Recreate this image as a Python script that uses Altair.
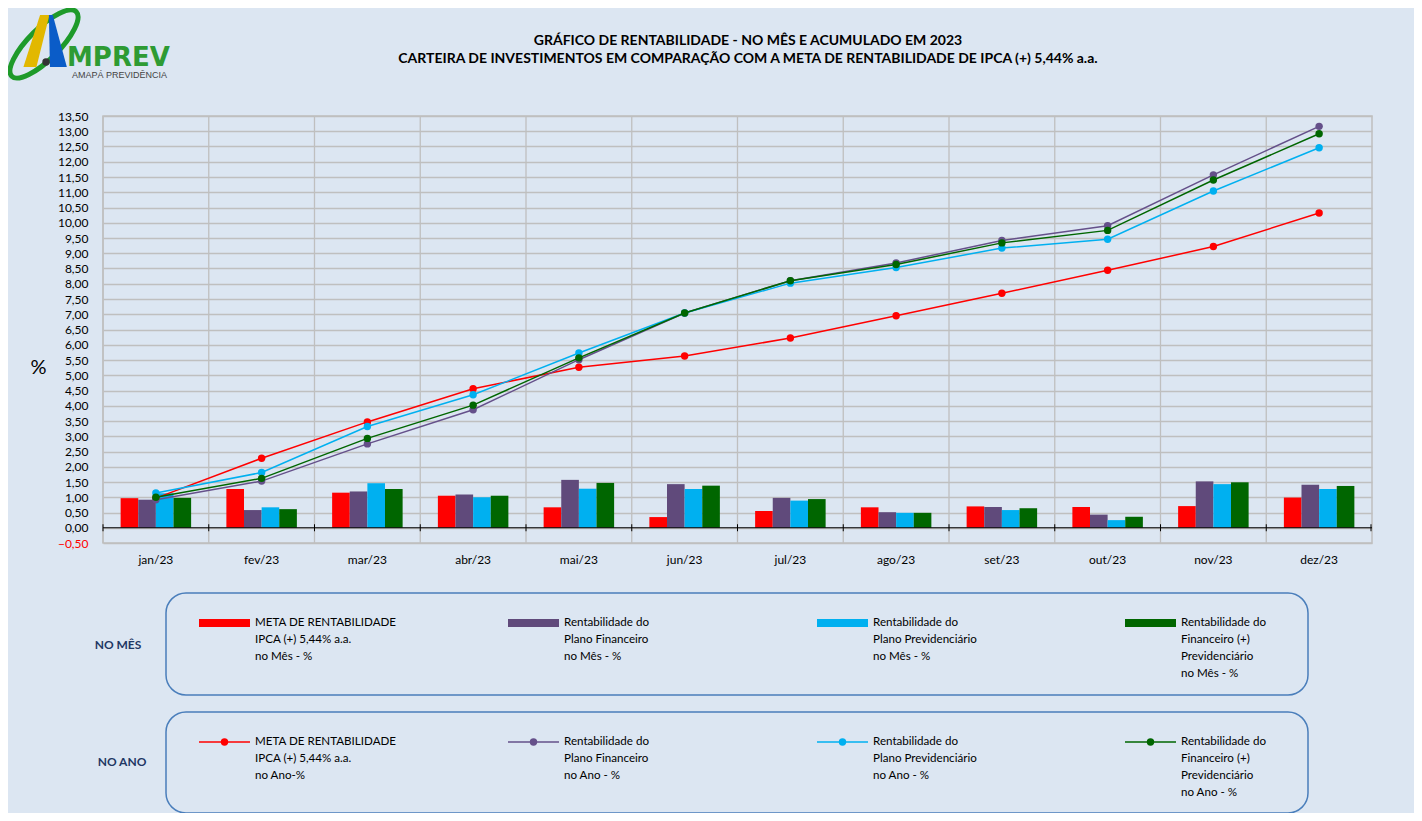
import altair as alt
import pandas as pd

# ---------------- data ----------------
months = ["jan/23", "fev/23", "mar/23", "abr/23", "mai/23", "jun/23",
          "jul/23", "ago/23", "set/23", "out/23", "nov/23", "dez/23"]
keys = ["meta", "fin", "prev", "total"]

meta_mes = [0.97, 1.27, 1.15, 1.05, 0.67, 0.35, 0.55, 0.67, 0.70, 0.68, 0.71, 0.99]
fin_mes = [0.92, 0.58, 1.19, 1.09, 1.57, 1.43, 0.98, 0.51, 0.68, 0.43, 1.52, 1.41]
prev_mes = [1.13, 0.67, 1.46, 1.00, 1.28, 1.27, 0.89, 0.49, 0.58, 0.25, 1.43, 1.27]
total_mes = [0.98, 0.61, 1.27, 1.05, 1.47, 1.38, 0.94, 0.49, 0.64, 0.36, 1.49, 1.37]

meta_ano = [0.97, 2.28, 3.47, 4.56, 5.26, 5.63, 6.22, 6.95, 7.69, 8.44, 9.22, 10.32]
fin_ano = [0.92, 1.53, 2.75, 3.87, 5.51, 7.04, 8.10, 8.68, 9.42, 9.90, 11.57, 13.16]
prev_ano = [1.14, 1.81, 3.32, 4.36, 5.73, 7.04, 8.02, 8.53, 9.17, 9.46, 11.04, 12.46]
total_ano = [1.00, 1.62, 2.93, 4.02, 5.57, 7.04, 8.10, 8.63, 9.34, 9.75, 11.40, 12.92]

y_ticks = [i * 0.5 for i in range(-1, 28)]

title_lines = ["GRÁFICO DE RENTABILIDADE - NO MÊS E ACUMULADO EM 2023",
               "CARTEIRA DE INVESTIMENTOS EM COMPARAÇÃO COM A META DE RENTABILIDADE DE IPCA (+) 5,44% a.a."]

legend_mes = [["META DE RENTABILIDADE", "IPCA (+) 5,44% a.a.", "no Mês - %"],
              ["Rentabilidade do", "Plano Financeiro", "no Mês - %"],
              ["Rentabilidade do", "Plano Previdenciário", "no Mês - %"],
              ["Rentabilidade do", "Financeiro (+)", "Previdenciário", "no Mês - %"]]
legend_ano = [["META DE RENTABILIDADE", "IPCA (+) 5,44% a.a.", "no Ano-%"],
              ["Rentabilidade do", "Plano Financeiro", "no Ano - %"],
              ["Rentabilidade do", "Plano Previdenciário", "no Ano - %"],
              ["Rentabilidade do", "Financeiro (+)", "Previdenciário", "no Ano - %"]]

bar_colors = ["#FF0000", "#604A7B", "#00B0F0", "#006600"]
line_colors = ["#FF0000", "#65508A", "#00B0F0", "#006600"]

rows = []
for i, m in enumerate(months):
    mes_vals = [meta_mes[i], fin_mes[i], prev_mes[i], total_mes[i]]
    ano_vals = [meta_ano[i], fin_ano[i], prev_ano[i], total_ano[i]]
    for k, a, b in zip(keys, mes_vals, ano_vals):
        rows.append({"month": m, "key": k, "mes": a, "ano": b})
df = pd.DataFrame(rows)
df_months = pd.DataFrame({"month": months})
one = alt.Data(values=[{"d": 0}])

# ---------------- layout ----------------
X0, Y0 = 103, 116          # page position of plot area's top-left
W, H = 1269, 427
FONT = "Lato"


def px(x):
    return x - X0


def py(y):
    return y - Y0


xscale = alt.Scale(domain=months, paddingInner=0, paddingOuter=0)
yscale = alt.Scale(domain=[-0.5, 13.5], nice=False, zero=False)
xaxis = alt.Axis(title=None, labelAngle=0, ticks=False, domain=False, grid=False,
                 labelPadding=11, labelFontSize=12, labelFont=FONT, labelColor="#000000")
yaxis = alt.Axis(values=y_ticks, title="%", titleAngle=0, titleX=-65, titleY=251,
                 titleFontSize=20, titleFontWeight="normal", titleFont=FONT,
                 titleAlign="center", titleBaseline="middle", titleColor="#000000",
                 labelExpr="replace(format(datum.value, '.2f'), '.', ',')",
                 labelColor={"condition": {"test": "datum.value < 0", "value": "#FF0000"},
                             "value": "#000000"},
                 labelFontSize=12, labelFont=FONT, labelPadding=15,
                 ticks=False, domain=False, grid=True, gridColor="#BFBFBF", gridWidth=1.3)


def X(**kw):
    return alt.X("month:N", sort=months, scale=xscale, axis=xaxis, **kw)


def Y(field):
    return alt.Y(field, scale=yscale, axis=yaxis)


layers = []

# vertical grid lines at band boundaries
layers.append(alt.Chart(df_months).mark_rule(color="#BFBFBF", strokeWidth=1.3)
              .encode(x=X(bandPosition=0)))

# monthly bars
layers.append(alt.Chart(df).mark_bar().encode(
    x=X(),
    xOffset=alt.XOffset("key:N", sort=keys,
                        scale=alt.Scale(domain=keys, paddingInner=0, paddingOuter=1)),
    y=Y("mes:Q"),
    color=alt.Color("key:N", scale=alt.Scale(domain=keys, range=bar_colors), legend=None),
))

# zero line and its ticks
layers.append(alt.Chart(one).mark_rule(color="#000000", strokeWidth=1)
              .encode(y=alt.YDatum(0, scale=yscale, axis=yaxis)))
layers.append(alt.Chart(df_months).mark_rule(color="#000000", strokeWidth=1).encode(
    x=X(bandPosition=0),
    y=alt.YDatum(-0.115, scale=yscale, axis=yaxis), y2=alt.Y2Datum(0.115)))
layers.append(alt.Chart(one).mark_rule(color="#000000", strokeWidth=1).encode(
    x=alt.value(W - 1),
    y=alt.YDatum(-0.115, scale=yscale, axis=yaxis), y2=alt.Y2Datum(0.115)))

# accumulated lines
for k, c in zip(keys, line_colors):
    layers.append(alt.Chart(df).transform_filter(alt.datum.key == k)
                  .mark_line(color=c, strokeWidth=1.5,
                             point=alt.OverlayMarkDef(filled=True, size=55, color=c, opacity=1))
                  .encode(x=X(), y=Y("ano:Q")))


# ---------------- decorations ----------------
def text(t, x, y, size=11.6, weight="normal", align="left", color="#000000",
         font=FONT, baseline="middle"):
    return alt.Chart(one).mark_text(text=t, fontSize=size, fontWeight=weight, align=align,
                                    color=color, font=font, baseline=baseline).encode(
        x=alt.value(px(x)), y=alt.value(py(y)))


# titles
layers.append(text(title_lines[0], 748, 41, size=14, weight="bold", align="center"))
layers.append(text(title_lines[1], 748, 59, size=14, weight="bold", align="center"))

# logo
ring = "M -0.95 0 A 0.95 0.32 0 1 0 0.95 0 A 0.95 0.32 0 1 0 -0.95 0 Z"
layers.append(alt.Chart(one).mark_point(shape=ring, filled=False, stroke="#1E9A2A",
                                        strokeWidth=5, angle=315, size=96 * 96, opacity=1)
              .encode(x=alt.value(px(44)), y=alt.value(py(44))))
yellow = "M -0.19 -1 L 0.17 -1 L -0.33 1 L -0.83 1 Z"
blue = "M 0.15 -1 L 0.3 -1 L 0.84 1 L 0.19 1 Z"
layers.append(alt.Chart(one).mark_point(shape=yellow, filled=True, color="#E2B800",
                                        size=52 * 52, opacity=1, strokeWidth=0)
              .encode(x=alt.value(px(45)), y=alt.value(py(41))))
layers.append(alt.Chart(one).mark_point(shape=blue, filled=True, color="#0A5CC8",
                                        size=52 * 52, opacity=1, strokeWidth=0)
              .encode(x=alt.value(px(45)), y=alt.value(py(41))))
layers.append(alt.Chart(one).mark_circle(color="#333333", size=55, opacity=1)
              .encode(x=alt.value(px(46)), y=alt.value(py(62))))
layers.append(text("MPREV", 67, 66, size=26, weight="bold", color="#2E9B33",
                   font="DejaVu Sans", baseline="alphabetic"))
layers.append(text("AMAPÁ PREVIDÊNCIA", 72, 75, size=9, color="#444444",
                   font="Liberation Sans"))

# legend boxes
for (y1, y2) in [(593, 695), (712, 813)]:
    layers.append(alt.Chart(one).mark_rect(fillOpacity=0, stroke="#4A7EBB", strokeWidth=1.5,
                                           cornerRadius=20).encode(
        x=alt.value(px(166)), x2=alt.value(px(1308)),
        y=alt.value(py(y1)), y2=alt.value(py(y2))))

layers.append(text("NO MÊS", 118, 645, size=12, weight="bold", align="center", color="#1F3864"))
layers.append(text("NO ANO", 122, 762, size=12, weight="bold", align="center", color="#1F3864"))

sw_x = [199, 508, 817, 1125]
SW = 51
LH = 17
row1, row2 = 623, 742
for i in range(4):
    x = sw_x[i]
    # bar swatch
    layers.append(alt.Chart(one).mark_rect(color=bar_colors[i]).encode(
        x=alt.value(px(x)), x2=alt.value(px(x + SW)),
        y=alt.value(py(row1 - 4)), y2=alt.value(py(row1 + 4))))
    # line swatch
    layers.append(alt.Chart(one).mark_rule(color=line_colors[i], strokeWidth=1.5).encode(
        x=alt.value(px(x)), x2=alt.value(px(x + SW)), y=alt.value(py(row2))))
    layers.append(alt.Chart(one).mark_circle(color=line_colors[i], size=55, opacity=1).encode(
        x=alt.value(px(x + SW / 2)), y=alt.value(py(row2))))
    for j, line in enumerate(legend_mes[i]):
        layers.append(text(line, x + SW + 5, row1 + j * LH))
    for j, line in enumerate(legend_ano[i]):
        layers.append(text(line, x + SW + 5, row2 + j * LH))

chart = alt.layer(*layers).properties(
    width=W, height=H, background="#DCE6F2",
    autosize=alt.AutoSizeParams(type="none"),
    padding={"left": X0 - 8, "top": Y0 - 8, "right": 1406 - (X0 - 8) - W,
             "bottom": 805 - (Y0 - 8) - H},
).configure(font=FONT).configure_view(stroke="#BFBFBF", strokeWidth=1.5)

chart.save("out.html", embed_options={"renderer": "svg", "actions": False})
